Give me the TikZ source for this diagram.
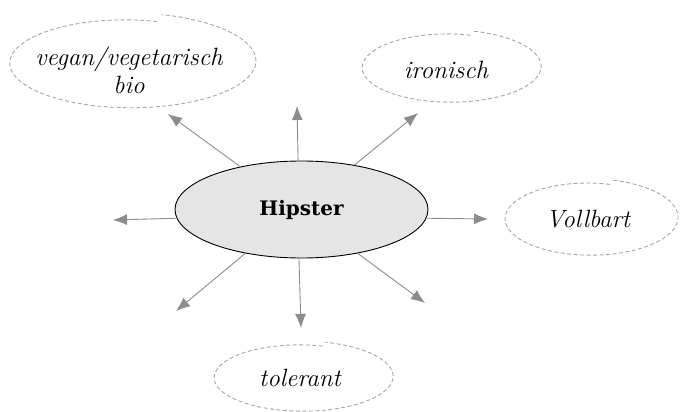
\documentclass[tikz,border=0pt]{standalone}
\usepackage{fontspec}
\newfontfamily\hubfont{DejaVu Serif}
\usetikzlibrary{arrows.meta}
\usetikzlibrary{shapes.geometric}

\begin{document}
\begin{tikzpicture}[x=1pt, y=-1pt]
\tikzstyle{hubStyle} = [shape = ellipse, draw = black, line width = 0.9pt, fill = black!10, minimum width = 253pt, minimum height = 97pt, inner sep = 0pt, font = \hubfont\bfseries\fontsize{20}{22}\selectfont]
\tikzstyle{ideaStyle} = [align = center, inner sep = 0pt, font = \itshape\fontsize{25}{28}\selectfont]
\tikzstyle{arrowStyle} = [draw = black!45, line width = 0.9pt, -{Latex[length = 14pt, width = 11pt]}]
\tikzstyle{cloudStyle} = [draw = black!35, line width = 0.9pt, dash pattern = on 4pt off 2.5pt]
\useasboundingbox (0,0) rectangle (680,412);
% centre
\node[hubStyle] (hub) at (301.5, 209.5) {Hipster};
% ideas
\node[ideaStyle] (veg) at (129, 70) {vegan/vegetarisch\\bio};
\node[ideaStyle] (iron) at (446, 70) {ironisch};
\node[ideaStyle] (bart) at (588, 219) {Vollbart};
\node[ideaStyle] (tol) at (300, 378) {tolerant};
% outlines
\draw[cloudStyle] plot[domain = -285:75, samples = 120] ({128 + (0.93 + 0.16*(\x + 285)/360)*121*cos(\x)}, {62 - (0.93 + 0.16*(\x + 285)/360)*45*sin(\x)});
\draw[cloudStyle] plot[domain = -285:75, samples = 120] ({449 + (0.94 + 0.12*(\x + 285)/360)*89*cos(\x)}, {67 - (0.94 + 0.12*(\x + 285)/360)*35*sin(\x)});
\draw[cloudStyle] plot[domain = -285:75, samples = 120] ({589 + (0.94 + 0.12*(\x + 285)/360)*86*cos(\x)}, {218 - (0.94 + 0.12*(\x + 285)/360)*37*sin(\x)});
\draw[cloudStyle] plot[domain = -285:75, samples = 120] ({301 + (0.94 + 0.12*(\x + 285)/360)*89*cos(\x)}, {377 - (0.94 + 0.12*(\x + 285)/360)*34*sin(\x)});
% arrow ends
\coordinate (nw) at (168, 114);
\coordinate (n) at (297, 106);
\coordinate (ne) at (418, 113);
\coordinate (w) at (113, 220);
\coordinate (e) at (488, 219);
\coordinate (sw) at (176, 311);
\coordinate (s) at (301, 328);
\coordinate (se) at (425, 303);
\draw[arrowStyle] (hub.145) -- (nw);
\draw[arrowStyle] (hub.94) -- (n);
\draw[arrowStyle] (hub.40.5) -- (ne);
\draw[arrowStyle] (hub.184) -- (w);
\draw[arrowStyle] (hub.356) -- (e);
\draw[arrowStyle] (hub.218) -- (sw);
\draw[arrowStyle] (hub.267) -- (s);
\draw[arrowStyle] (hub.322) -- (se);
\end{tikzpicture}
\end{document}
